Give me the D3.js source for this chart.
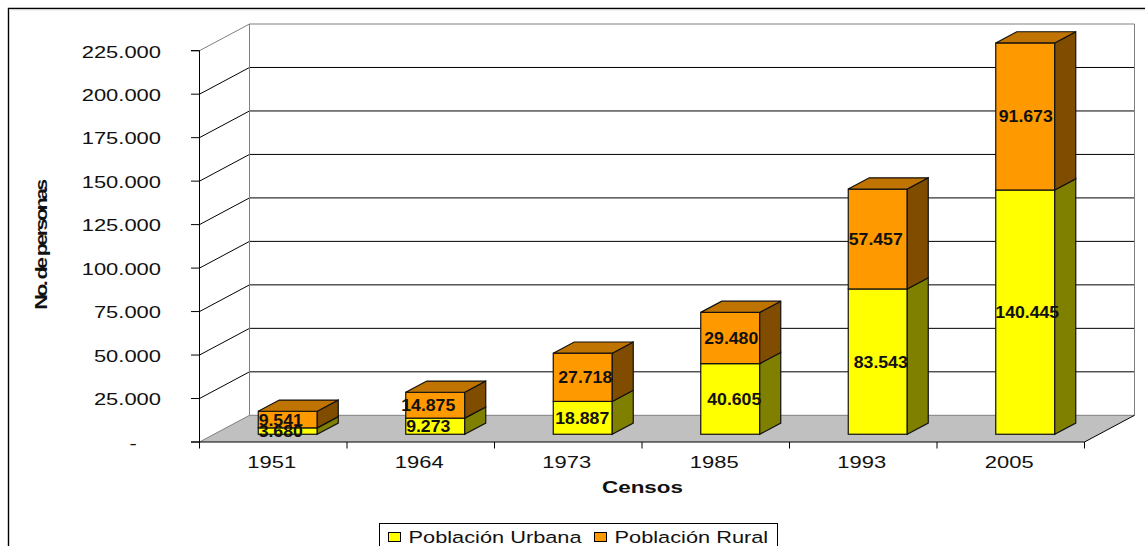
<!DOCTYPE html>
<html lang="es">
<head>
  <meta charset="UTF-8">
  <title>Población por censos</title>
  <script src="https://d3js.org/d3.v7.min.js"></script>
  <style>
    html, body { margin: 0; background: #fff; overflow: hidden; }
    svg { display: block; font-family: "Liberation Sans", Arial, sans-serif; }
    text { fill: #111; }
  </style>
</head>
<body>
  <div id="chart"></div>

  <script>
    // Datos de los censos
    const censos = ["1951", "1964", "1973", "1985", "1993", "2005"];
    const urbana = [3680, 9273, 18887, 40605, 83543, 140445];
    const rural = [9541, 14875, 27718, 29480, 57457, 91673];
    const series = ["Población Urbana", "Población Rural"];
    const yTicks = [0, 25000, 50000, 75000, 100000, 125000, 150000, 175000, 200000, 225000];

    // Ajuste horizontal de cada etiqueta respecto al centro de su barra
    const urbanaDx = [-7, -7, -0.5, 4, 3, 2];
    const ruralDx = [-7, -7, 2.5, 1, -2, 0.5];

    const width = 1145;
    const height = 546;

    // Ejes en el plano frontal y profundidad de la pseudo-perspectiva
    const plotLeft = 199.5, plotRight = 1084.5, plotBottom = 442, plotTop = 50.7;
    const wallDx = 50, wallDy = 26.7;
    const barDepth = 0.42, barGap = 0.29;

    const colors = {
      front: ["#ffff00", "#ff9900"],
      side: ["#808000", "#7f4c00"],
      lid: "#bf7300"
    };

    const svg = d3.select("#chart").append("svg")
      .attr("width", width)
      .attr("height", height);

    const x = d3.scaleBand().domain(censos).range([plotLeft, plotRight])
      .paddingInner(0.6).paddingOuter(0.3);

    // La escala corta en el máximo del eje, igual que la barra de 2005
    const y = d3.scaleLinear().domain([0, 225000]).range([plotBottom, plotTop]).clamp(true);

    const rows = censos.map((c, i) => ({ censo: c, urbana: urbana[i], rural: rural[i] }));
    const stacked = d3.stack().keys(["urbana", "rural"])(rows);

    const line = d3.line();

    // Texto ensanchado en horizontal
    function stretched(g, px, py, sx, str, size, weight, anchor) {
      return g.append("text")
        .attr("transform", `translate(${px},${py}) scale(${sx},1)`)
        .attr("text-anchor", anchor || "middle")
        .attr("font-size", size)
        .attr("font-weight", weight || "normal")
        .text(str);
    }

    // Marco exterior
    svg.append("path")
      .attr("d", `M8.5,${height}V8.5H${width}`)
      .attr("fill", "none").attr("stroke", "#000").attr("stroke-width", 1.4);
    svg.append("line")
      .attr("x1", 9).attr("x2", width).attr("y1", 9.9).attr("y2", 9.9)
      .attr("stroke", "#ddd");

    // Suelo
    svg.append("path")
      .attr("d", line([[plotLeft, plotBottom], [plotRight, plotBottom], [plotRight + wallDx, plotBottom - wallDy], [plotLeft + wallDx, plotBottom - wallDy]]) + "Z")
      .attr("fill", "#c0c0c0");

    // Paredes: líneas de fondo y diagonales de la pared izquierda
    const grid = svg.append("g").attr("fill", "none");
    yTicks.forEach(t => {
      const yy = y(t);
      grid.append("path")
        .attr("d", line([[plotLeft, yy], [plotLeft + wallDx, yy - wallDy], [plotRight + wallDx, yy - wallDy]]))
        .attr("stroke", t === 0 || t === 225000 ? "#808080" : "#000");
    });
    grid.append("path")
      .attr("d", line([[plotLeft + wallDx, plotTop - wallDy], [plotLeft + wallDx, plotBottom - wallDy]]))
      .attr("stroke", "#808080");
    grid.append("path")
      .attr("d", line([[plotRight + wallDx, plotTop - wallDy], [plotRight + wallDx, plotBottom - wallDy]]))
      .attr("stroke", "#808080");
    grid.append("path")
      .attr("d", line([[plotRight + wallDx, plotBottom - wallDy], [plotRight, plotBottom]]))
      .attr("stroke", "#000");

    // Eje Y; el cero se escribe con un guion separado del borde
    const es = d3.formatLocale({ decimal: ",", thousands: ".", grouping: [3], currency: ["", ""] });
    const yAxis = d3.axisLeft(y)
      .tickValues(yTicks)
      .tickSize(8.5)
      .offset(0)
      .tickFormat(d => d === 0 ? "-" : es.format(",")(d));
    const yG = svg.append("g")
      .attr("transform", `translate(${plotLeft},0)`)
      .call(yAxis);
    yG.select(".domain").attr("stroke", "#000");
    yG.selectAll(".tick line").attr("stroke", "#000");
    yG.selectAll(".tick text")
      .attr("x", null).attr("dy", null)
      .attr("transform", d => d === 0 ? "translate(-62.8,6.8) scale(1.33,1)" : "translate(-38.5,6.8) scale(1.33,1)")
      .attr("text-anchor", "end")
      .attr("font-family", "Liberation Sans")
      .attr("font-size", 16.5);

    // Eje X: rótulos centrados y marcas en los límites de cada categoría
    const xAxis = d3.axisBottom(x).tickSize(0).tickPadding(0).offset(0);
    const xG = svg.append("g")
      .attr("transform", `translate(0,${plotBottom})`)
      .call(xAxis);
    xG.select(".domain").attr("stroke", "#000").attr("d", `M${plotLeft},0H${plotRight}`);
    xG.selectAll(".tick text")
      .attr("y", null).attr("dy", null)
      .attr("transform", "translate(-1.5,26) scale(1.33,1)")
      .attr("font-family", "Liberation Sans")
      .attr("font-size", 16.5);
    d3.range(censos.length + 1).forEach(i => {
      const xx = plotLeft + i * x.step();
      xG.append("line")
        .attr("x1", xx).attr("x2", xx).attr("y1", 0).attr("y2", 6.5)
        .attr("stroke", "#000");
    });

    // Barras apiladas
    const frontDx = wallDx * barGap, frontDy = wallDy * barGap;
    const depthDx = wallDx * barDepth, depthDy = wallDy * barDepth;
    const barX = c => x(c) + frontDx;

    const layers = svg.selectAll(".layer")
      .data(stacked)
      .join("g")
      .attr("class", "layer");

    layers.each(function (layer, k) {
      const g = d3.select(this);
      g.selectAll(".front")
        .data(layer)
        .join("rect")
        .attr("class", "front")
        .attr("x", d => barX(d.data.censo))
        .attr("y", d => y(d[1]) - frontDy)
        .attr("width", x.bandwidth())
        .attr("height", d => y(d[0]) - y(d[1]))
        .attr("fill", colors.front[k])
        .attr("stroke", "#111")
        .attr("stroke-width", 1.2);

      g.selectAll(".side")
        .data(layer)
        .join("path")
        .attr("class", "side")
        .attr("d", d => {
          const xr = barX(d.data.censo) + x.bandwidth();
          const y0 = y(d[0]) - frontDy, y1 = y(d[1]) - frontDy;
          return line([[xr, y0], [xr + depthDx, y0 - depthDy], [xr + depthDx, y1 - depthDy], [xr, y1]]) + "Z";
        })
        .attr("fill", colors.side[k])
        .attr("stroke", "#111")
        .attr("stroke-width", 1.2);
    });

    // Tapa superior de cada columna
    svg.append("g").selectAll("path")
      .data(stacked[1])
      .join("path")
      .attr("d", d => {
        const xl = barX(d.data.censo), xr = xl + x.bandwidth();
        const yt = y(d[1]) - frontDy;
        return line([[xl, yt], [xl + depthDx, yt - depthDy], [xr + depthDx, yt - depthDy], [xr, yt]]) + "Z";
      })
      .attr("fill", colors.lid)
      .attr("stroke", "#111")
      .attr("stroke-width", 1.2);

    // Etiquetas de valor, con el valor del censo y centradas en la parte visible
    const labels = svg.append("g");
    stacked.forEach((layer, k) => {
      const shift = k === 0 ? urbanaDx : ruralDx;
      const values = k === 0 ? urbana : rural;
      layer.forEach((d, i) => {
        const cx = barX(d.data.censo) + x.bandwidth() / 2 + shift[i];
        const cy = (y(d[0]) + y(d[1])) / 2 - frontDy;
        stretched(labels, cx, cy + 6, 1.04, es.format(",")(values[i]), 17, "bold");
      });
    });

    // Títulos de los ejes
    stretched(svg, 642.5, 492.5, 1.36, "Censos", 16.5, "bold");
    svg.append("text")
      .attr("transform", "translate(47,245.5) rotate(-90) scale(1.35,1)")
      .attr("text-anchor", "middle")
      .attr("font-size", 16)
      .attr("font-weight", "bold")
      .attr("letter-spacing", -1.95)
      .text("No. de personas");

    // Leyenda
    const legend = svg.append("g");
    legend.append("rect")
      .attr("x", 379.5).attr("y", 523.5)
      .attr("width", 398).attr("height", 40)
      .attr("fill", "#fff").attr("stroke", "#000");
    const legendX = [388.5, 594.5];
    series.forEach((s, i) => {
      legend.append("rect")
        .attr("x", legendX[i]).attr("y", 532.5)
        .attr("width", 12).attr("height", 9)
        .attr("fill", colors.front[i]).attr("stroke", "#000");
      stretched(legend, legendX[i] + 20, 543.3, 1.32, s, 16.5, "normal", "start");
    });
  </script>
</body>
</html>
